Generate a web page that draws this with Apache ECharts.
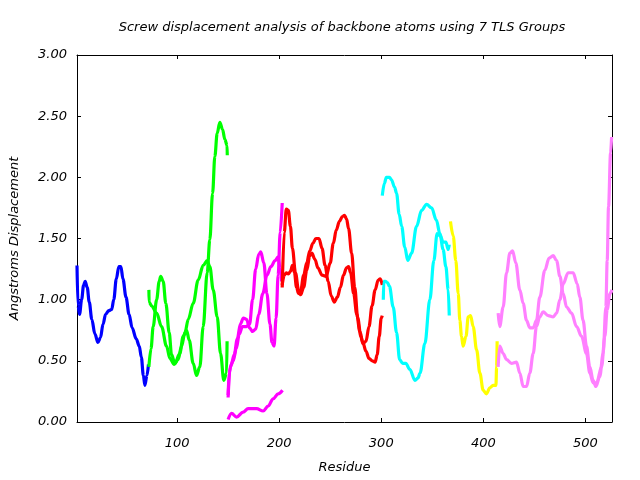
<!DOCTYPE html>
<html><head><meta charset="utf-8">
<script src="https://cdn.jsdelivr.net/npm/echarts@6/dist/echarts.min.js"></script>
<style>html,body{margin:0;padding:0;background:#fff}#c{width:640px;height:480px}</style>
</head><body><div id="c"></div>
<script>
const titleText = "Screw displacement analysis of backbone atoms using 7 TLS Groups";
const xName = "Residue";
const yName = "Angstroms Displacement";
const xTicks = [100, 200, 300, 400, 500];
const yTicks = [0, 0.5, 1, 1.5, 2, 2.5, 3];
const groupColors = ["#0000ff", "#00ff00", "#ff00ff", "#ff0000", "#00ffff", "#ffff00", "#ff80ff"];

const blueA = [[2,1.28],[3,0.95],[4.5,0.88],[6.5,1.0],[8.5,1.12],[10,1.15],[12,1.1],[14,0.98],[16.5,0.84],[19.5,0.72],[22.5,0.65],[25,0.69],[27.5,0.8],[30,0.88],[33,0.91],[36,0.92],[38,1.0],[40.5,1.17],[43,1.27],[45,1.27],[47,1.17],[50,1.02],[53,0.88],[56,0.77],[60,0.68],[63,0.62],[65,0.53],[67,0.38],[68.5,0.30],[70.5,0.38],[72,0.47]];

const greenA = [[72.4,1.08],[72.6,0.98],[75,0.95],[80,0.89],[84.8,0.78],[89.7,0.62],[93,0.52],[97.2,0.47],[101,0.51],[104.4,0.62],[107.7,0.73],[111,0.84],[115.8,0.97],[120.7,1.16],[125.6,1.28],[129.5,1.32],[132.1,1.27],[135.4,1.08],[139.3,0.86],[142.6,0.56],[145.8,0.34],[148.5,0.40],[149,0.66]];
const greenB = [[72.4,0.45],[74.5,0.6],[76.6,0.78],[80,1.0],[82.5,1.15],[84,1.19],[86.4,1.15],[89,0.97],[92.3,0.73],[94.6,0.55],[97.8,0.48],[102.7,0.56],[106,0.70],[109.3,0.75],[111.9,0.67],[115.8,0.48],[119.1,0.38],[122.3,0.45],[125.6,0.78],[129.5,1.22],[132.1,1.49],[134.8,1.87],[137,2.17],[139.3,2.36],[141.9,2.45],[144.6,2.39],[146.8,2.31],[149,2.26],[149.2,2.18]];

const magentaA = [[150,0.22],[151,0.4],[153,0.47],[156,0.55],[159,0.68],[162,0.8],[165,0.85],[168,0.84],[171,0.77],[174,0.74],[177,0.76],[180,0.88],[184,1.05],[188,1.2],[192,1.27],[196,1.32],[199,1.35],[201,1.25],[202.5,1.15]];
const magentaB = [[150,0.2],[152,0.45],[155,0.5],[158,0.6],[161,0.72],[164,0.78],[168,0.78],[171,0.8],[174,1.0],[177,1.25],[180,1.37],[182,1.39],[185,1.3],[188,1.05],[191,0.8],[193,0.65],[195,0.62],[197,0.85],[199,1.2],[201,1.55],[203,1.79]];
const magentaC = [[150,0.02],[153.4,0.07],[158.3,0.04],[164.7,0.08],[169.6,0.11],[177.9,0.11],[184.3,0.09],[189.2,0.13],[194.1,0.19],[199,0.23],[203.3,0.26]];

const redA = [[203,1.10],[205,1.55],[207,1.74],[209,1.73],[211,1.6],[213,1.42],[216,1.22],[219,1.08],[221,1.04],[224,1.1],[227,1.24],[230,1.36],[232,1.38],[235,1.33],[238,1.26],[242,1.2],[246,1.19],[250,1.3],[253,1.46],[256,1.57],[259,1.64],[262,1.68],[264,1.69],[266,1.66],[268,1.58],[271,1.38],[274,1.1],[277,0.85],[280,0.7],[282,0.64],[285,0.66],[288,0.78],[291,0.95],[294,1.08],[297,1.16],[299,1.17],[301,1.12]];
const redB = [[203,1.12],[205,1.2],[207,1.22],[209,1.21],[211,1.23],[213,1.28],[215,1.22],[217,1.1],[219,1.05],[221,1.07],[224,1.2],[227,1.3],[230,1.4],[233,1.46],[236,1.5],[239,1.5],[242,1.42],[245,1.28],[248,1.15],[251,1.03],[254,0.98],[257,1.02],[260,1.1],[263,1.2],[266,1.26],[268,1.27],[270,1.22],[273,1.05],[276,0.88],[279,0.74],[282,0.65],[285,0.58],[288,0.52],[291,0.5],[294,0.49],[296,0.55],[298,0.7],[300,0.85],[301,0.87]];

const cyanA = [[301,1.85],[303,1.95],[305,2.0],[308,2.0],[310,1.98],[313,1.92],[315,1.87],[317.5,1.7],[320,1.6],[323,1.43],[326,1.32],[329.7,1.38],[334.6,1.6],[339.5,1.73],[344.4,1.78],[349.3,1.75],[354,1.65],[357.4,1.54],[360.6,1.41],[363.3,1.27],[365.6,1.08],[366.6,0.87]];
const cyanB = [[302,1.0],[302.5,1.15],[304,1.15],[306,1.14],[308,1.11],[311.7,0.94],[315,0.73],[318,0.51],[321,0.48],[324,0.48],[328,0.43],[333,0.34],[336,0.36],[338,0.40],[342.7,0.64],[347.6,1.0],[351.5,1.32],[354.7,1.54],[358,1.52],[360.6,1.47],[363.3,1.47],[365.6,1.41],[366.6,1.45]];

const yellowA = [[367.8,1.64],[370.5,1.52],[373,1.32],[375.4,1.05],[377,0.83],[378.6,0.70],[380.2,0.62],[383,0.70],[385.2,0.86],[387.5,0.87],[390,0.78],[393.4,0.59],[396.6,0.40],[399.8,0.26],[403,0.23],[406.4,0.28],[409.6,0.30],[412.3,0.30],[413,0.45],[413.5,0.66]];

const violetA = [[414.5,0.89],[416,0.78],[419.4,0.94],[422.7,1.22],[426,1.38],[428.6,1.40],[431.8,1.30],[435.7,1.08],[439,0.97],[442.3,0.83],[445.5,0.77],[448.8,0.77],[452,0.83],[455.3,1.02],[460.2,1.24],[464.4,1.34],[468.4,1.36],[471.7,1.32],[475,1.19],[478.2,1.05],[481.5,0.94],[486.4,0.89],[491.3,0.78],[496.2,0.70],[501,0.56],[504.3,0.40],[507.5,0.32],[510.9,0.32],[515.8,0.45],[519,0.70],[521.3,0.92],[524,1.05],[526,1.08]];
const violetB = [[414.5,0.45],[416,0.62],[419.4,0.56],[422.7,0.51],[427.6,0.48],[432.5,0.49],[435.7,0.40],[439,0.29],[442.3,0.29],[445.5,0.40],[448.8,0.56],[452,0.78],[455.3,0.86],[458.6,0.90],[463.5,0.87],[468.4,0.86],[471.7,0.89],[475,1.0],[478.2,1.13],[483,1.22],[488,1.22],[491.9,1.13],[494.5,1.02],[497.7,0.83],[501,0.62],[504.3,0.45],[507.5,0.34],[510.2,0.29],[514,0.37],[517.3,0.56],[520,0.94],[521.3,1.32],[522.6,1.76],[524.6,2.2],[525.6,2.33]];

const curves = [
  [blueA, 0], [greenA, 1], [greenB, 1],
  [magentaA, 2], [magentaB, 2], [magentaC, 2],
  [redA, 3], [redB, 3], [cyanA, 4], [cyanB, 4],
  [yellowA, 5], [violetA, 6], [violetB, 6]
];

const FONT = "DejaVu Sans";
const txt = {fontFamily: FONT, fontStyle: "italic", fontSize: 13, color: "#000"};
const xMin = 2, xMax = 526;

const chart = echarts.init(document.getElementById("c"), null, {renderer: "canvas"});
chart.setOption({
  animation: false,
  backgroundColor: "#fff",
  title: {text: titleText, left: 337, top: 16, textAlign: "center",
    textStyle: Object.assign({}, txt, {fontWeight: "normal"})},
  grid: {left: 77, right: 28, top: 55, bottom: 58, containLabel: false},
  xAxis: [{
    type: "value", min: xMin, max: xMax, position: "bottom",
    name: xName, nameLocation: "middle", nameGap: 39, nameTextStyle: txt,
    axisLine: {show: true, onZero: false, lineStyle: {color: "#000", width: 1}},
    axisTick: {show: true, inside: true, length: 4, customValues: xTicks, lineStyle: {color: "#000"}},
    axisLabel: {show: true, customValues: xTicks, margin: 15, ...txt},
    splitLine: {show: false}
  }, {
    type: "value", min: xMin, max: xMax, position: "top",
    axisLine: {show: true, onZero: false, lineStyle: {color: "#000", width: 1}},
    axisTick: {show: true, inside: true, length: 4, customValues: xTicks, lineStyle: {color: "#000"}},
    axisLabel: {show: false}, splitLine: {show: false}
  }],
  yAxis: [{
    type: "value", min: 0, max: 3, interval: 0.5, position: "left",
    name: yName, nameLocation: "middle", nameGap: 56, nameRotate: 90, nameTextStyle: txt,
    axisLine: {show: true, onZero: false, lineStyle: {color: "#000", width: 1}},
    axisTick: {show: true, inside: true, length: 4, lineStyle: {color: "#000"}},
    axisLabel: {show: true, margin: 10, formatter: v => v.toFixed(2), ...txt},
    splitLine: {show: false}
  }, {
    type: "value", min: 0, max: 3, interval: 0.5, position: "right",
    axisLine: {show: true, onZero: false, lineStyle: {color: "#000", width: 1}},
    axisTick: {show: true, inside: true, length: 4, lineStyle: {color: "#000"}},
    axisLabel: {show: false}, splitLine: {show: false}
  }],
  series: curves.map(([d, g]) => ({
    type: "line", data: d, xAxisIndex: 0, yAxisIndex: 0,
    showSymbol: false, symbol: "none", smooth: 0.35, smoothMonotone: "x",
    clip: true, silent: true,
    lineStyle: {color: groupColors[g], width: 3.2}
  }))
});
</script>
</body></html>
